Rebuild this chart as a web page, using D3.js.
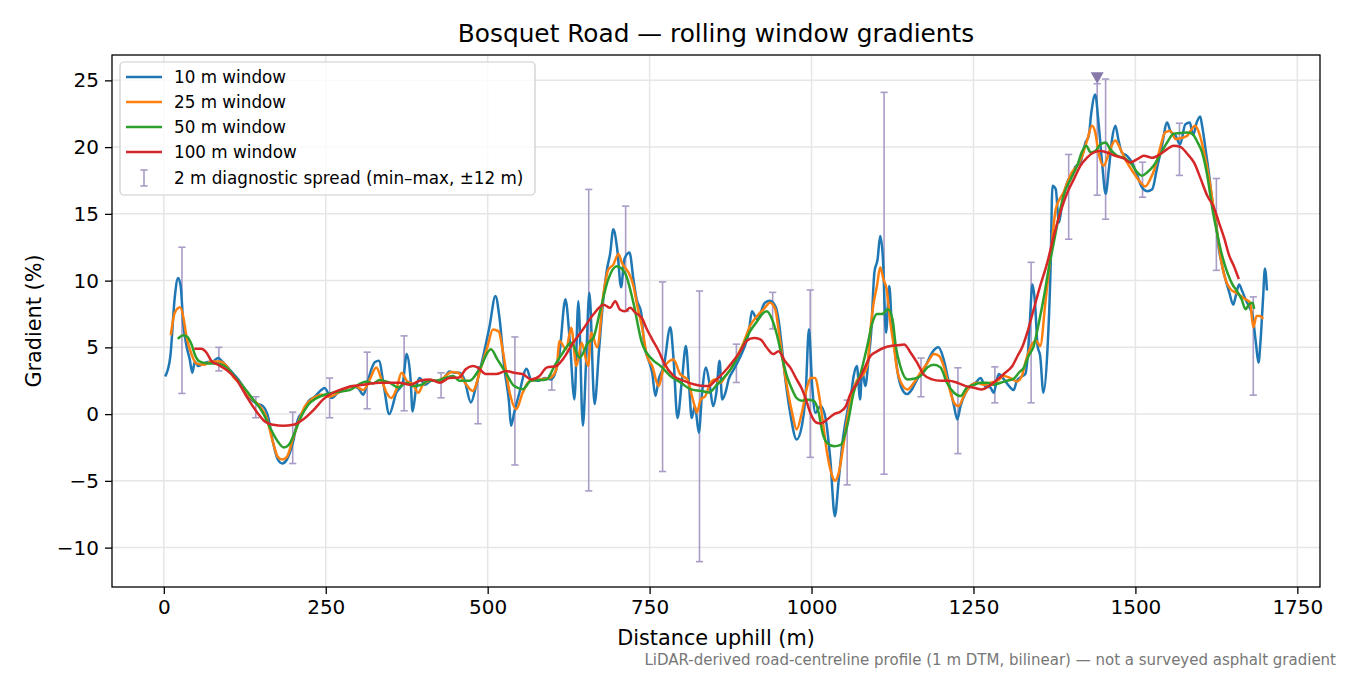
<!DOCTYPE html>
<html><head><meta charset="utf-8">
<script src="https://cdn.jsdelivr.net/npm/d3@7"></script>
<style>body{margin:0;background:#fff}svg{display:block}text{font-family:"DejaVu Sans",sans-serif}</style>
</head><body><svg id="c" width="1350" height="675"></svg>
<script>
// ---- data (distance m, gradient %) ----
const win10 = [[3,2.9],[10,4.3],[17,8.8],[22,10.2],[26,9.6],[30,6.8],[35,5.1],[40,4.1],[44,3.1],[48,3.95],[53,3.6],[61,3.8],[68,3.9],[76,3.95],[84,4.2],[90,3.95],[97,3.6],[104,3.2],[115,2.6],[122,2.1],[133,1.2],[143,0.8],[153,0.6],[161,-0.2],[169,-2.2],[176,-3.4],[183,-3.7],[190,-3.4],[199,-2.2],[207,-0.4],[215,0.2],[223,0.95],[233,1.3],[243,1.8],[248,1.95],[259,1.2],[269,1.6],[279,1.8],[290,2.1],[300,1.95],[308,1.45],[313,2.1],[320,3.3],[326,3.9],[332,4.0],[340,2.0],[348,0.0],[359,1.6],[369,2.35],[375,4.5],[381,2.6],[384,0.2],[390,2.1],[395,2.7],[403,2.2],[413,2.5],[423,2.5],[431,2.6],[441,3.2],[449,3.1],[456,3.1],[464,2.6],[474,0.87],[482,2.1],[492,4.1],[503,6.6],[512,8.85],[518,7.3],[526,3.36],[533,0.87],[536,-0.87],[541,0.12],[549,1.6],[560,3.4],[567,2.6],[578,2.5],[588,2.7],[598,2.6],[605,3.2],[611,4.6],[620,8.6],[627,5.35],[634,1.1],[640,8.46],[647,-0.87],[652,4.0],[657,9.1],[665,0.75],[672,4.85],[679,8.83],[684,10.8],[689,12.0],[694,13.85],[700,12.35],[706,9.5],[711,11.6],[719,12.1],[725,10.1],[730,8.6],[737,7.6],[742,5.1],[748,4.1],[754,3.1],[759,1.35],[764,2.6],[772,3.6],[782,6.5],[787,4.1],[793,-0.3],[800,2.6],[806,5.1],[811,2.1],[815,-0.3],[820,0.6],[826,-1.4],[831,1.6],[837,3.5],[843,2.1],[848,0.6],[853,1.6],[858,4.0],[862,1.1],[867,1.6],[872,2.6],[880,3.35],[887,4.0],[895,4.85],[903,6.1],[908,7.7],[916,7.1],[928,8.35],[936,8.5],[944,8.1],[949,7.1],[954,5.1],[959,2.85],[967,0.1],[977,-1.9],[985,-0.9],[991,1.6],[996,6.35],[1001,2.1],[1006,0.1],[1014,0.6],[1022,-0.4],[1029,-3.4],[1036,-7.65],[1042,-4.9],[1049,-1.65],[1055,0.1],[1060,1.1],[1065,2.85],[1070,3.6],[1075,1.1],[1078,3.35],[1083,2.1],[1088,4.1],[1092,6.1],[1097,10.6],[1102,11.6],[1106,13.35],[1110,11.85],[1115,6.1],[1120,9.6],[1124,6.6],[1129,4.6],[1133,3.1],[1140,1.85],[1147,1.5],[1155,1.85],[1163,2.6],[1176,3.6],[1186,4.6],[1196,5.0],[1204,4.1],[1212,2.35],[1220,0.6],[1225,-0.4],[1230,0.6],[1238,1.6],[1245,2.1],[1253,2.35],[1261,2.7],[1268,2.1],[1276,2.0],[1281,1.6],[1289,3.0],[1297,2.6],[1305,2.1],[1312,1.8],[1317,2.5],[1324,2.8],[1330,3.0],[1334,4.5],[1337,6.85],[1341,9.7],[1345,8.35],[1349,5.1],[1353,4.35],[1358,1.6],[1364,4.6],[1369,10.85],[1372,17.1],[1377,16.85],[1382,14.35],[1387,15.85],[1397,17.6],[1402,17.85],[1407,18.5],[1415,18.85],[1423,20.35],[1428,20.85],[1432,22.6],[1438,23.95],[1443,21.85],[1449,18.6],[1454,16.5],[1459,18.35],[1464,20.6],[1469,21.6],[1474,20.5],[1479,19.6],[1487,19.35],[1495,18.85],[1503,17.85],[1510,17.0],[1518,16.7],[1526,16.85],[1533,18.35],[1541,20.1],[1549,21.85],[1554,21.2],[1562,20.85],[1569,20.2],[1577,21.7],[1584,21.85],[1589,20.9],[1595,21.9],[1600,22.3],[1603,21.6],[1609,19.6],[1614,17.85],[1619,15.85],[1624,14.6],[1629,12.35],[1634,11.1],[1639,10.1],[1645,9.1],[1651,8.2],[1655,8.85],[1660,9.7],[1665,9.2],[1670,8.6],[1676,8.0],[1681,7.35],[1686,5.35],[1690,3.85],[1693,5.35],[1697,8.6],[1700,10.9],[1703,9.35]];

const win25 = [[11,6.0],[17,7.6],[25,8.0],[30,7.3],[35,5.8],[43,4.45],[50,3.8],[61,3.7],[74,3.95],[86,3.95],[97,3.6],[107,2.8],[120,2.2],[133,1.3],[148,0.6],[158,-0.2],[169,-2.2],[176,-3.2],[183,-3.4],[190,-3.2],[199,-1.9],[207,-0.7],[218,0.6],[231,1.2],[243,1.45],[256,1.3],[269,1.6],[282,1.95],[295,2.1],[308,1.8],[318,2.6],[328,3.5],[336,2.6],[344,1.6],[351,1.2],[359,1.85],[367,3.1],[375,2.5],[385,2.2],[393,1.6],[400,2.2],[411,2.5],[421,2.5],[431,2.7],[444,3.15],[454,3.1],[465,2.35],[477,1.74],[489,3.36],[500,5.1],[508,6.34],[517,6.2],[523,4.85],[534,1.6],[544,0.37],[554,1.6],[565,2.5],[580,2.6],[596,2.7],[606,3.36],[611,5.47],[621,4.85],[629,6.47],[637,3.6],[645,5.35],[655,3.6],[660,6.1],[669,5.0],[679,9.1],[686,10.8],[694,11.2],[702,12.0],[707,11.35],[720,10.35],[725,9.6],[731,8.1],[738,6.6],[746,4.35],[754,3.6],[764,2.1],[772,3.5],[787,4.1],[797,3.0],[808,2.6],[818,0.87],[823,0.12],[829,1.1],[836,1.35],[844,2.35],[851,2.6],[859,2.35],[867,2.85],[875,3.35],[885,4.35],[895,5.35],[905,6.6],[916,7.35],[926,7.85],[936,8.35],[944,7.85],[949,6.35],[954,4.6],[962,2.1],[970,0.1],[977,-1.15],[985,0.1],[993,2.0],[999,2.7],[1006,2.7],[1011,1.6],[1017,-0.4],[1024,-2.9],[1032,-4.65],[1036,-5.0],[1042,-4.4],[1049,-2.4],[1055,-0.4],[1063,1.6],[1071,2.6],[1078,2.85],[1086,3.6],[1091,6.35],[1096,8.35],[1101,9.6],[1106,11.0],[1111,10.1],[1116,9.35],[1121,7.1],[1127,5.1],[1132,3.35],[1140,2.2],[1148,1.85],[1158,2.35],[1168,3.1],[1179,3.85],[1189,4.5],[1197,4.35],[1204,3.6],[1212,2.1],[1220,0.85],[1227,0.6],[1235,1.35],[1245,2.1],[1256,2.35],[1266,2.2],[1276,2.35],[1287,2.5],[1297,2.85],[1307,2.7],[1317,2.45],[1325,2.9],[1330,3.85],[1340,5.2],[1347,5.5],[1353,5.1],[1361,8.35],[1369,11.85],[1377,15.35],[1383,16.1],[1389,16.6],[1395,17.35],[1402,18.1],[1410,18.6],[1418,19.35],[1426,20.6],[1433,21.6],[1438,21.1],[1443,19.6],[1451,18.6],[1461,19.85],[1469,20.5],[1477,19.85],[1487,18.85],[1497,18.1],[1508,17.35],[1515,17.05],[1523,17.6],[1531,18.6],[1539,20.1],[1546,21.1],[1554,21.2],[1562,20.6],[1572,20.7],[1580,20.85],[1585,21.2],[1592,21.6],[1598,21.1],[1606,19.6],[1614,17.6],[1621,15.35],[1627,13.35],[1632,11.6],[1639,10.1],[1647,9.35],[1655,9.1],[1663,8.85],[1670,8.6],[1677,8.35],[1682,6.5],[1687,7.35],[1693,7.35],[1696,7.2]];

const win50 = [[23,5.7],[30,5.9],[36,5.8],[43,5.2],[48,4.45],[55,3.95],[68,3.8],[81,3.8],[94,3.6],[107,2.95],[122,2.1],[138,1.1],[153,0.1],[166,-1.2],[176,-2.05],[185,-2.5],[193,-2.3],[202,-1.4],[212,-0.2],[223,0.7],[236,1.2],[248,1.45],[261,1.6],[274,1.7],[287,1.8],[300,2.2],[313,2.45],[323,2.3],[333,2.55],[339,2.5],[349,2.35],[362,2.0],[375,2.35],[385,2.1],[398,2.2],[408,2.5],[421,2.5],[434,2.7],[447,2.85],[456,2.5],[472,2.5],[487,3.36],[505,4.85],[515,4.1],[528,3.1],[541,2.1],[554,1.87],[567,2.5],[591,2.6],[603,3.6],[616,4.6],[629,5.35],[642,4.23],[655,5.35],[663,5.7],[673,7.6],[686,10.07],[699,11.07],[712,10.57],[725,8.33],[738,5.35],[754,4.1],[767,3.6],[782,2.86],[798,2.36],[813,1.87],[829,1.74],[842,1.62],[854,2.2],[864,2.7],[875,3.35],[885,4.2],[895,5.2],[905,6.2],[916,6.95],[926,7.6],[931,7.7],[939,7.1],[947,5.85],[954,4.35],[962,2.85],[970,1.85],[977,1.2],[985,1.0],[993,1.1],[1004,0.97],[1011,0.1],[1017,-1.4],[1024,-2.15],[1035,-2.4],[1045,-2.3],[1055,-0.9],[1065,1.6],[1076,3.1],[1086,5.1],[1094,6.85],[1101,7.5],[1109,7.5],[1118,7.85],[1125,7.1],[1130,5.1],[1137,3.6],[1148,2.6],[1158,2.65],[1168,2.85],[1179,3.5],[1189,3.7],[1199,3.5],[1209,2.35],[1220,1.6],[1230,1.35],[1240,2.0],[1251,2.2],[1261,2.35],[1271,2.35],[1281,2.2],[1292,2.35],[1302,2.5],[1312,2.65],[1320,3.1],[1328,3.5],[1335,4.35],[1343,5.1],[1351,6.85],[1359,8.85],[1366,10.85],[1374,12.85],[1382,14.85],[1389,16.35],[1400,17.6],[1410,18.6],[1418,19.7],[1424,20.1],[1431,19.6],[1438,19.7],[1446,20.2],[1454,20.35],[1461,19.85],[1472,19.35],[1482,19.2],[1492,18.85],[1503,18.1],[1510,17.85],[1518,18.1],[1528,18.6],[1539,19.5],[1549,20.35],[1559,21.0],[1570,21.05],[1580,21.1],[1588,21.0],[1596,20.35],[1603,19.6],[1611,17.85],[1619,15.35],[1627,13.35],[1634,11.85],[1642,10.6],[1650,9.7],[1657,9.2],[1664,8.6],[1670,7.85],[1675,8.2],[1681,8.35],[1683,7.97]];

const win100 = [[49,4.9],[58,4.9],[66,4.6],[74,3.95],[84,3.7],[97,3.3],[112,2.6],[128,1.3],[143,0.2],[156,-0.55],[169,-0.8],[184,-0.88],[200,-0.8],[215,-0.4],[231,0.3],[246,1.1],[261,1.6],[277,1.9],[292,2.1],[308,2.2],[320,2.3],[333,2.35],[349,2.35],[364,2.35],[380,2.2],[395,2.5],[411,2.6],[426,2.35],[441,2.7],[456,2.74],[466,3.36],[477,3.6],[485,3.48],[497,3.0],[513,3.0],[528,3.23],[541,3.1],[554,3.0],[567,2.6],[580,2.86],[591,3.48],[606,3.6],[616,4.1],[632,5.35],[647,6.34],[663,7.46],[679,8.2],[689,7.96],[697,8.46],[704,7.84],[712,7.7],[720,7.96],[728,7.6],[738,7.2],[746,6.34],[754,5.6],[764,4.73],[772,3.86],[787,2.86],[803,2.49],[818,2.24],[833,2.11],[841,2.1],[851,2.5],[864,3.1],[877,3.85],[890,4.7],[900,5.5],[911,5.7],[921,5.6],[931,4.97],[941,4.5],[949,4.7],[959,3.97],[967,3.5],[977,2.6],[985,1.9],[992,1.0],[998,0.1],[1008,-0.65],[1014,-0.7],[1024,-0.4],[1035,0.0],[1045,0.2],[1053,0.6],[1060,1.5],[1071,2.35],[1081,3.35],[1091,4.35],[1101,4.7],[1112,4.97],[1122,5.1],[1132,5.15],[1143,5.22],[1153,4.6],[1163,3.85],[1173,2.97],[1186,2.6],[1199,2.5],[1212,2.5],[1225,2.35],[1238,2.1],[1251,1.97],[1263,1.85],[1274,2.1],[1287,2.6],[1299,3.1],[1310,3.6],[1318,4.35],[1326,5.1],[1333,6.1],[1343,7.85],[1353,9.6],[1364,11.35],[1374,13.35],[1384,15.1],[1395,16.6],[1405,17.6],[1415,18.6],[1425,19.2],[1436,19.6],[1446,19.7],[1456,19.6],[1469,19.35],[1482,19.15],[1492,18.85],[1503,19.1],[1513,19.35],[1526,19.2],[1539,19.5],[1549,19.85],[1559,20.1],[1570,20.0],[1580,19.5],[1591,18.8],[1601,17.6],[1611,16.35],[1621,15.5],[1629,14.35],[1637,13.2],[1645,11.85],[1652,11.1],[1659,10.2]];

// 2 m diagnostic spread: distance, min, max
const spreadDist = [28,85,142,199,256,314,371,428,485,542,599,656,713,770,827,884,940,998,1055,1112,1169,1226,1283,1339,1397,1441,1454,1511,1568,1625,1682];
const spreadMin  = [1.55,3.24,-0.27,-3.7,-0.27,0.4,0.25,1.22,-0.72,-3.81,1.8,-5.75,7.7,-4.3,-11.05,2.37,6.38,-3.24,-5.3,-4.5,1.3,-2.96,0.85,0.85,13.1,16.4,14.6,16.25,17.88,10.77,1.42];
const spreadMax  = [12.5,5.0,1.3,0.15,2.7,4.64,5.86,3.09,3.54,5.78,2.9,16.83,15.58,9.9,9.22,5.24,9.12,9.3,1.05,24.1,4.2,3.47,3.54,11.37,19.45,24.75,25.1,18.87,21.79,17.65,8.78];
const peakMarker = [1441, 25.2];

const xTicks = [0,250,500,750,1000,1250,1500,1750];
const yTicks = [-10,-5,0,5,10,15,20,25];
const seriesNames = ["10 m window","25 m window","50 m window","100 m window"];
const seriesColors = ["#1f77b4","#ff7f0e","#2ca02c","#d62728"];
const seriesData = [win10, win25, win50, win100];
const spreadLabel = "2 m diagnostic spread (min\u2013max, \u00b112 m)";
const titleText = "Bosquet Road \u2014 rolling window gradients";
const xLabel = "Distance uphill (m)";
const yLabel = "Gradient (%)";
const footnote = "LiDAR-derived road-centreline profile (1 m DTM, bilinear) \u2014 not a surveyed asphalt gradient";

// ---- drawing ----
const L=112, R=1320, T=55, B=587;
const svg = d3.select("#c");
const x = d3.scaleLinear().domain([-80,1785]).range([L,R]);
const y = d3.scaleLinear().domain([-12.95,26.9]).range([B,T]);
const fmt = v => (v<0 ? "\u2212"+Math.abs(v) : String(v));

svg.append("rect").attr("width",1350).attr("height",675).attr("fill","#fff");

// grid
const grid = svg.append("g");
grid.selectAll("line.gx").data(xTicks).join("line")
  .attr("x1",d=>x(d)).attr("x2",d=>x(d)).attr("y1",T).attr("y2",B)
  .attr("stroke","#e6e6e6").attr("stroke-width",1.5);
grid.selectAll("line.gy").data(yTicks).join("line")
  .attr("y1",d=>y(d)).attr("y2",d=>y(d)).attr("x1",L).attr("x2",R)
  .attr("stroke","#e6e6e6").attr("stroke-width",1.5);

svg.append("clipPath").attr("id","pc").append("rect")
  .attr("x",L).attr("y",T).attr("width",R-L).attr("height",B-T);
const plot = svg.append("g").attr("clip-path","url(#pc)");

// error bars
const ebColor = "#a99cc6";
const eb = plot.append("g").attr("stroke",ebColor).attr("stroke-width",1.6);
spreadDist.forEach((d,i)=>{
  const cx = x(d), y1 = y(spreadMin[i]), y2 = y(spreadMax[i]);
  eb.append("line").attr("x1",cx).attr("x2",cx).attr("y1",y1).attr("y2",y2);
  eb.append("line").attr("x1",cx-3.6).attr("x2",cx+3.6).attr("y1",y1).attr("y2",y1);
  eb.append("line").attr("x1",cx-3.6).attr("x2",cx+3.6).attr("y1",y2).attr("y2",y2);
});

// lines
const line = d3.line().x(d=>x(d[0])).y(d=>y(d[1])).curve(d3.curveMonotoneX);
seriesData.forEach((s,i)=>{
  plot.append("path").datum(s).attr("d",line)
    .attr("fill","none").attr("stroke",seriesColors[i]).attr("stroke-width",2.5)
    .attr("stroke-linejoin","round").attr("stroke-linecap","square");
});

// peak marker (downward triangle)
{
  const px = x(peakMarker[0]), py = y(peakMarker[1]);
  plot.append("path").attr("d",`M${px-6.5},${py-5.5}L${px+6.5},${py-5.5}L${px},${py+6}Z`)
    .attr("fill","#8979aa");
}

// spines
svg.append("rect").attr("x",L).attr("y",T).attr("width",R-L).attr("height",B-T)
  .attr("fill","none").attr("stroke","#000").attr("stroke-width",1.3);

// axes
const xa = svg.append("g").attr("transform",`translate(0,${B})`)
  .call(d3.axisBottom(x).tickValues(xTicks).tickFormat(fmt).tickSize(7).tickPadding(6));
const ya = svg.append("g").attr("transform",`translate(${L},0)`)
  .call(d3.axisLeft(y).tickValues(yTicks).tickFormat(fmt).tickSize(7).tickPadding(6));
[xa,ya].forEach(a=>{
  a.select(".domain").remove();
  a.selectAll(".tick line").attr("stroke","#000").attr("stroke-width",1.3);
  a.selectAll(".tick text").attr("fill","#000").style("font-size","20px")
   .style("font-family","'DejaVu Sans',sans-serif");
});

// labels
svg.append("text").attr("x",(L+R)/2).attr("y",42).attr("text-anchor","middle")
  .style("font-size","24.8px").attr("fill","#000").text(titleText);
svg.append("text").attr("x",(L+R)/2).attr("y",645).attr("text-anchor","middle")
  .style("font-size","20.8px").attr("fill","#000").text(xLabel);
svg.append("text").attr("transform",`translate(41,${(T+B)/2}) rotate(-90)`).attr("text-anchor","middle")
  .style("font-size","20.8px").attr("fill","#000").text(yLabel);
svg.append("text").attr("x",1336).attr("y",665).attr("text-anchor","end")
  .style("font-size","15px").attr("fill","#777").text(footnote);

// legend
const lg = svg.append("g");
lg.append("rect").attr("x",120).attr("y",62).attr("width",415).attr("height",133).attr("rx",4)
  .attr("fill","#fff").attr("fill-opacity",0.8).attr("stroke","#cccccc").attr("stroke-width",1.2);
const rowY = [77,102,127,152,178];
seriesNames.forEach((n,i)=>{
  lg.append("line").attr("x1",126).attr("x2",162).attr("y1",rowY[i]).attr("y2",rowY[i])
    .attr("stroke",seriesColors[i]).attr("stroke-width",2.5);
  lg.append("text").attr("x",174).attr("y",rowY[i]).attr("dy","0.35em")
    .style("font-size","16.8px").attr("fill","#000").text(n);
});
{
  const cy = rowY[4];
  const g = lg.append("g").attr("stroke",ebColor).attr("stroke-width",1.6);
  g.append("line").attr("x1",144).attr("x2",144).attr("y1",cy-8).attr("y2",cy+8);
  g.append("line").attr("x1",140.4).attr("x2",147.6).attr("y1",cy-8).attr("y2",cy-8);
  g.append("line").attr("x1",140.4).attr("x2",147.6).attr("y1",cy+8).attr("y2",cy+8);
  lg.append("text").attr("x",174).attr("y",cy).attr("dy","0.35em")
    .style("font-size","16.8px").attr("fill","#000").text(spreadLabel);
}
</script></body></html>
